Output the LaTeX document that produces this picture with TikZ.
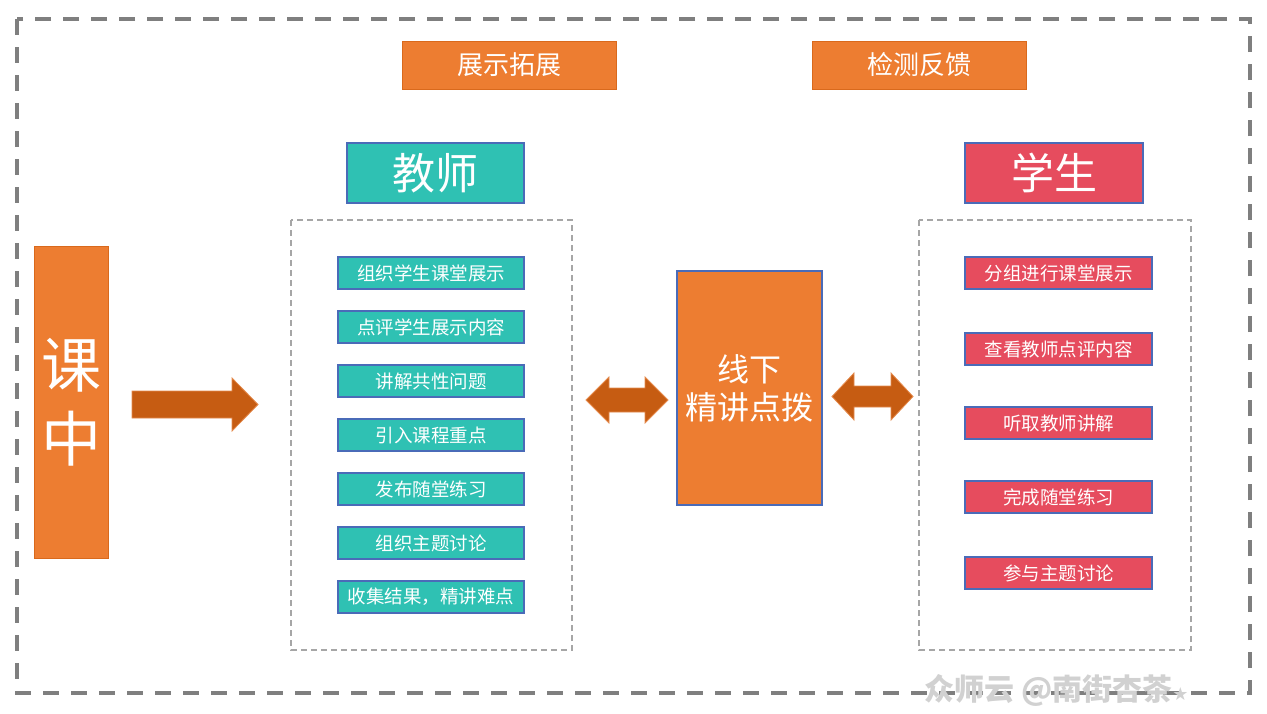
\documentclass[tikz,border=0pt]{standalone}
\usepackage{fontspec}
\setmainfont{Noto Sans CJK SC}
\newfontfamily\cjk{Noto Sans CJK SC}
\newfontfamily\dejavu{DejaVu Sans}
\definecolor{orng}{HTML}{ED7D31}
\definecolor{orngdk}{HTML}{D9691C}
\definecolor{teal1}{HTML}{2FC1B3}
\definecolor{redd}{HTML}{E64C5E}
\definecolor{bluebd}{HTML}{4A6BB8}
\definecolor{arr}{HTML}{C65C12}
\definecolor{arrbd}{HTML}{E58B4E}
\definecolor{dgray}{HTML}{7F7F7F}
\definecolor{lgray}{HTML}{A6A6A6}
\begin{document}
\begin{tikzpicture}[x=1pt,y=-1pt,
  orbox/.style={fill=orng,draw=orngdk,line width=1pt,text=white,inner sep=0pt},
  titlebox/.style={draw=bluebd,line width=1.2pt,text=white,inner sep=0pt,font=\fontsize{43}{46}\selectfont},
  tbox/.style={fill=teal1,draw=bluebd,line width=1.2pt,text=white,inner sep=0pt,minimum width=186pt,minimum height=32pt,font=\fontsize{18.5}{20}\selectfont},
  sbox/.style={fill=redd,draw=bluebd,line width=1.2pt,text=white,inner sep=0pt,minimum width=187pt,minimum height=32pt,font=\fontsize{18.5}{20}\selectfont},
  bigarrow/.style={fill=arr,draw=arrbd,line width=0.8pt},
  groupbox/.style={draw=lgray,line width=1.3pt,dash pattern=on 6pt off 4pt}]
\useasboundingbox (0,0) rectangle (1267,713);
\fill[white] (0,0) rectangle (1267,713);
% outer frame
\draw[dgray,line width=4pt,dash pattern=on 16pt off 12pt] (17,19) rectangle (1250,693);
% top labels
\node[orbox,minimum width=214pt,minimum height=48pt,font=\fontsize{26}{28}\selectfont] (zs) at (509,65) {展示拓展};
\node[orbox,minimum width=214pt,minimum height=48pt,font=\fontsize{26}{28}\selectfont] (jc) at (919,65) {检测反馈};
% titles
\node[titlebox,fill=teal1,minimum width=177pt,minimum height=60pt] (js) at (435.5,173) {教师};
\node[titlebox,fill=redd,minimum width=178pt,minimum height=60pt] (xs) at (1054,173) {学生};
% group boxes
\draw[groupbox] (291,220) rectangle (572,650);
\draw[groupbox] (919,220) rectangle (1191,650);
% left block
\node[orbox,minimum width=74pt,minimum height=312pt,font=\fontsize{60}{74}\selectfont,align=center] (kz) at (71,402) {课\\中};
% center block
\node[fill=orng,draw=bluebd,line width=1.2pt,text=white,minimum width=145pt,minimum height=234pt,inner sep=0pt,font=\fontsize{32}{38}\selectfont,align=center] (xx) at (749.5,388) {线下\\精讲点拨};
% teacher items
\node[tbox] (t1) at (431,273) {组织学生课堂展示};
\node[tbox] (t2) at (431,327) {点评学生展示内容};
\node[tbox] (t3) at (431,381) {讲解共性问题};
\node[tbox] (t4) at (431,435) {引入课程重点};
\node[tbox] (t5) at (431,489) {发布随堂练习};
\node[tbox] (t6) at (431,543) {组织主题讨论};
\node[tbox] (t7) at (431,597) {收集结果，精讲难点};
% student items
\node[sbox] (s1) at (1058.5,273) {分组进行课堂展示};
\node[sbox] (s2) at (1058.5,349) {查看教师点评内容};
\node[sbox] (s3) at (1058.5,423) {听取教师讲解};
\node[sbox] (s4) at (1058.5,497) {完成随堂练习};
\node[sbox] (s5) at (1058.5,573) {参与主题讨论};
% arrows
\draw[bigarrow] (132,391) -- (232,391) -- (232,378) -- (258,404.5) -- (232,431) -- (232,418) -- (132,418) -- cycle;
\draw[bigarrow] (586,400) -- (609,377) -- (609,388) -- (645,388) -- (645,377) -- (668,400) -- (645,423) -- (645,412) -- (609,412) -- (609,423) -- cycle;
\draw[bigarrow] (832,396.5) -- (854,373) -- (854,386) -- (891,386) -- (891,373) -- (913,396.5) -- (891,420) -- (891,407) -- (854,407) -- (854,420) -- cycle;
% watermark
\node[text=black!18,font=\fontsize{30}{32}\selectfont\bfseries,anchor=west,inner sep=0pt] (wm) at (924,690) {众师云 @南街杏茶{\dejavu\fontsize{18}{18}\selectfont ★}};
\end{tikzpicture}
\end{document}
